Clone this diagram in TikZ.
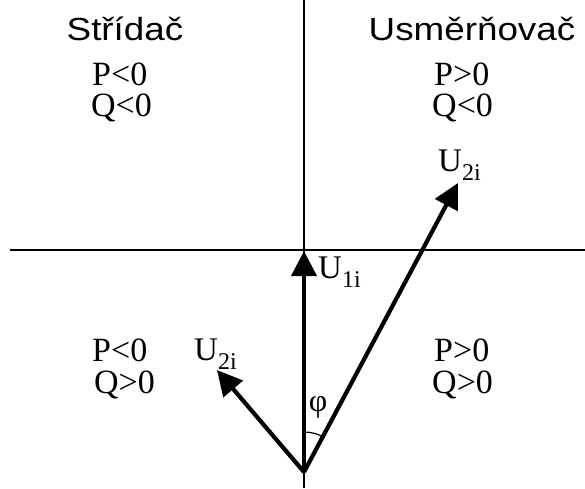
\documentclass[tikz,border=0pt]{standalone}
\usepackage{fontspec}
\setmainfont{Liberation Serif}
\newfontfamily\arialf{Liberation Sans}
\usetikzlibrary{arrows.meta,calc}
\tikzset{
  axis/.style={line width=1.6pt},
  vec/.style={line width=4.2pt,-{Triangle[length=25pt,width=25pt]}},
  head/.style={font=\arialf\fontsize{32}{32}\selectfont,inner sep=0pt},
  pq/.style={font=\fontsize{34}{34}\selectfont,anchor=base west,inner sep=0pt},
  lab/.style={font=\fontsize{33}{33}\selectfont,anchor=base west,inner sep=0pt},
}
\newcommand{\sbs}[1]{\raisebox{-0.3em}{\fontsize{24}{24}\selectfont #1}}
\begin{document}
\begin{tikzpicture}[x=1pt,y=-1pt]
\useasboundingbox (0,0) rectangle (585,488);
\coordinate (vt) at (304,0);
\coordinate (vb) at (304,488);
\coordinate (hl) at (10,250);
\coordinate (hr) at (585,250);
\coordinate (O) at (304,472);
\coordinate (U1) at (304,251);
\coordinate (U2r) at (458,183);
\coordinate (U2l) at (217,370);
\draw[axis] (vt) -- (vb);
\draw[axis] (hl) -- (hr);
\draw[vec] (O) -- (U1);
\draw[vec] (O) -- (U2r);
\draw[vec] (O) -- (U2l);
\draw[line width=1.2pt] ($(O)+(-62:40)$) arc[start angle=-62,end angle=-90,radius=40];
\node[head] (h1) at (125,29) {\scalebox{1.15}[1]{Střídač}};
\node[head] (h2) at (472,29) {\scalebox{1.15}[1]{Usměrňovač}};
\node[pq] (p2) at (92,85) {P<0};
\node[pq] (q2) at (91,116) {Q<0};
\node[pq] (p1) at (434,85) {P>0};
\node[pq] (q1) at (432,116) {Q<0};
\node[pq] (p3) at (92,361) {P<0};
\node[pq] (q3) at (94,393) {Q>0};
\node[pq] (p4) at (434,361) {P>0};
\node[pq] (q4) at (432,393) {Q>0};
\node[lab] (l1) at (318,278) {U\sbs{1i}};
\node[lab] (l2) at (438,171) {U\sbs{2i}};
\node[lab] (l3) at (194,360) {U\sbs{2i}};
\node[font=\fontsize{32}{32}\selectfont,inner sep=0pt] (phi) at (318,407) {φ};
\end{tikzpicture}
\end{document}
